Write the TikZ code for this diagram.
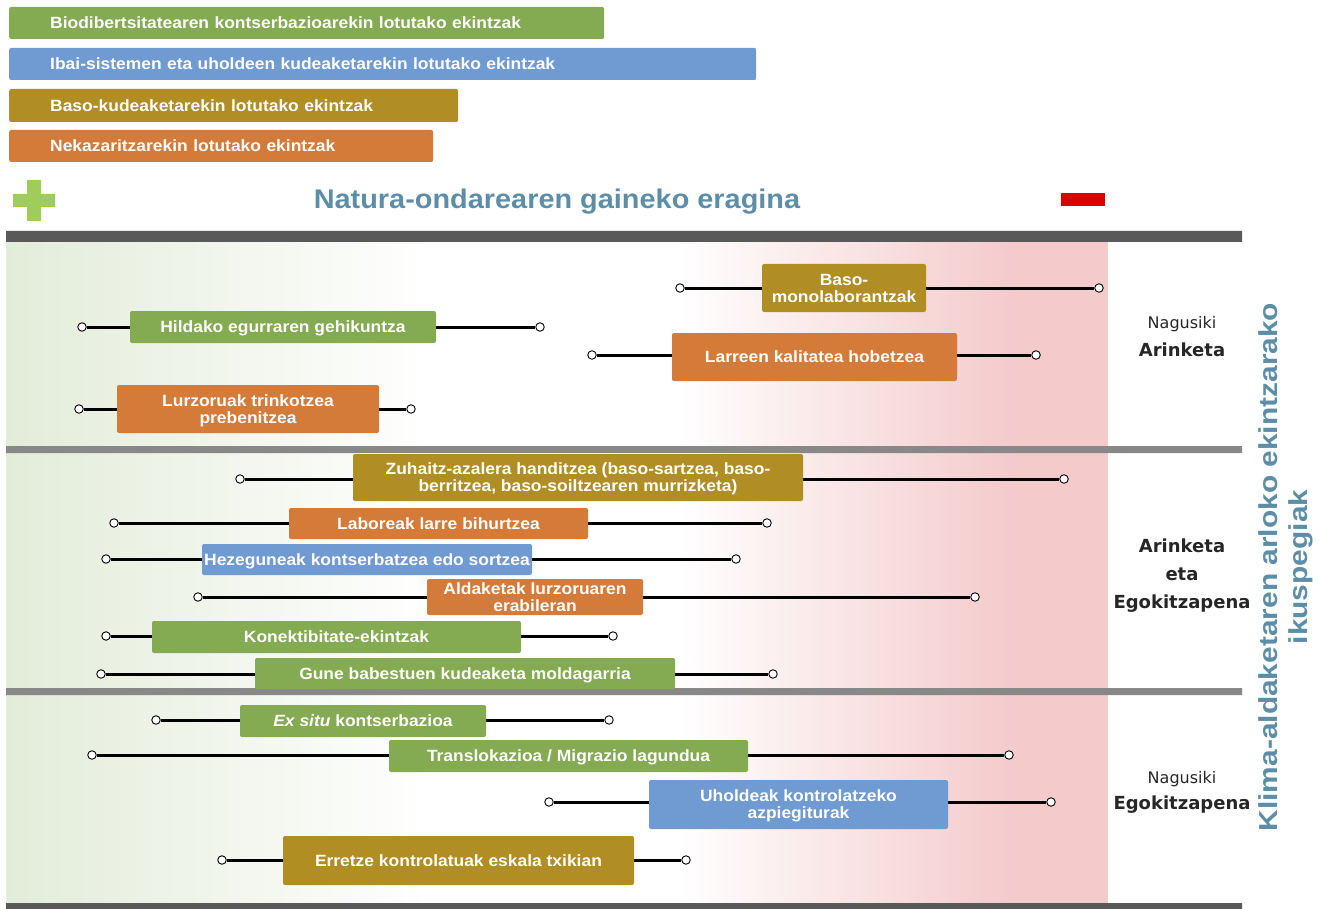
\documentclass[tikz,border=0pt]{standalone}
\usepackage{fontspec}
\setmainfont{Liberation Sans}
\newfontfamily\actfam{Liberation Sans}[FakeStretch=1.07]
\newfontfamily\axisfam{Liberation Sans}[FakeStretch=1.15]
\newfontfamily\sidefam{DejaVu Sans}
\definecolor{actgreen}{RGB}{132,170,82}
\definecolor{actblue}{RGB}{112,154,210}
\definecolor{actolive}{RGB}{176,142,36}
\definecolor{actorange}{RGB}{213,123,57}
\definecolor{titleblue}{RGB}{92,142,168}
\definecolor{plusgreen}{RGB}{160,205,90}
\definecolor{minusred}{RGB}{221,0,0}
\definecolor{bggreen}{RGB}{227,236,217}
\definecolor{bgpink}{RGB}{244,202,203}
\definecolor{bardark}{RGB}{89,89,89}
\definecolor{bargray}{RGB}{136,136,136}
\tikzset{
  act/.style={rounded corners=2pt, text=white, align=center, inner sep=0pt, text depth=0pt,
    font=\actfam\bfseries\fontsize{16.3}{17}\selectfont},
  legbar/.style={act, anchor=west, align=left, minimum height=32},
  dot/.style={circle, draw, fill=white, line width=0.9pt, inner sep=0pt, minimum size=8.5pt},
  bar/.style={line width=3pt},
  side/.style={align=center, text=black!85, font=\sidefam\bfseries\fontsize{18}{28}\selectfont},
}
\begin{document}
\begin{tikzpicture}[x=1pt,y=-1pt]
  \useasboundingbox (0,0) rectangle (1319,909);
  \shade[left color=bggreen, right color=white] (6,242) rectangle (430,903);
  \shade[left color=white, right color=bgpink] (678,242) rectangle (1015,903);
  \fill[bgpink] (1014,242) rectangle (1108,903);
  \fill[bardark] (6,231) rectangle (1242,242) (6,903) rectangle (1242,909);
  \fill[bargray] (6,446) rectangle (1242,453) (6,688) rectangle (1242,695);

  \node[legbar, fill=actgreen, text width=595pt] (leg1) at (9,23) {\hspace*{41pt}Biodibertsitatearen kontserbazioarekin lotutako ekintzak};
  \node[legbar, fill=actblue, text width=747pt] (leg2) at (9,64) {\hspace*{41pt}Ibai-sistemen eta uholdeen kudeaketarekin lotutako ekintzak};
  \node[legbar, fill=actolive, text width=449pt, minimum height=33] (leg3) at (9,105.5) {\hspace*{41pt}Baso-kudeaketarekin lotutako ekintzak};
  \node[legbar, fill=actorange, text width=424pt] (leg4) at (9,146) {\hspace*{41pt}Nekazaritzarekin lotutako ekintzak};

  \fill[plusgreen] (27,180) rectangle (41,221) (13,194) rectangle (55,207);
  \node[text=titleblue, font=\actfam\bfseries\fontsize{27}{30}\selectfont] (title) at (557,202) {Natura-ondarearen gaineko eragina};
  \fill[minusred] (1061,193) rectangle (1105,206);

  \node[dot](l1) at (680,288){};   \node[dot](r1) at (1099,288){};
  \node[dot](l2) at (82,327){};    \node[dot](r2) at (540,327){};
  \node[dot](l3) at (592,355){};   \node[dot](r3) at (1036,355){};
  \node[dot](l4) at (79,409){};    \node[dot](r4) at (411,409){};
  \node[dot](l5) at (240,479){};   \node[dot](r5) at (1064,479){};
  \node[dot](l6) at (114,523){};   \node[dot](r6) at (767,523){};
  \node[dot](l7) at (106,559){};   \node[dot](r7) at (736,559){};
  \node[dot](l8) at (198,597){};   \node[dot](r8) at (975,597){};
  \node[dot](l9) at (106,636){};   \node[dot](r9) at (613,636){};
  \node[dot](l10) at (101,674){};  \node[dot](r10) at (773,674){};
  \node[dot](l11) at (156,720){};  \node[dot](r11) at (609,720){};
  \node[dot](l12) at (92,755){};   \node[dot](r12) at (1009,755){};
  \node[dot](l13) at (549,802){};  \node[dot](r13) at (1051,802){};
  \node[dot](l14) at (222,860){};  \node[dot](r14) at (686,860){};
  \draw[bar] (l1)--(r1) (l2)--(r2) (l3)--(r3) (l4)--(r4) (l5)--(r5) (l6)--(r6) (l7)--(r7)
    (l8)--(r8) (l9)--(r9) (l10)--(r10) (l11)--(r11) (l12)--(r12) (l13)--(r13) (l14)--(r14);

  \node[act, fill=actolive, minimum width=164, minimum height=48] (b1) at (844,288) {Baso-\\monolaborantzak};
  \node[act, fill=actgreen, minimum width=306, minimum height=32] (b2) at (283,327) {Hildako egurraren gehikuntza};
  \node[act, fill=actorange, minimum width=285, minimum height=48] (b3) at (814.5,357) {Larreen kalitatea hobetzea};
  \node[act, fill=actorange, minimum width=262, minimum height=48] (b4) at (248,409) {Lurzoruak trinkotzea\\prebenitzea};
  \node[act, fill=actolive, minimum width=450, minimum height=47] (b5) at (578,477.5) {Zuhaitz-azalera handitzea (baso-sartzea, baso-\\berritzea, baso-soiltzearen murrizketa)};
  \node[act, fill=actorange, minimum width=299, minimum height=31] (b6) at (438.5,523.5) {Laboreak larre bihurtzea};
  \node[act, fill=actblue, minimum width=330, minimum height=31] (b7) at (367,559.5) {Hezeguneak kontserbatzea edo sortzea};
  \node[act, fill=actorange, minimum width=216, minimum height=36] (b8) at (535,597) {Aldaketak lurzoruaren\\erabileran};
  \node[act, fill=actgreen, minimum width=369, minimum height=32] (b9) at (336.5,637) {Konektibitate-ekintzak};
  \node[act, fill=actgreen, minimum width=420, minimum height=31] (b10) at (465,673.5) {Gune babestuen kudeaketa moldagarria};
  \node[act, fill=actgreen, minimum width=246, minimum height=32] (b11) at (363,721) {\textit{Ex situ} kontserbazioa};
  \node[act, fill=actgreen, minimum width=359, minimum height=32] (b12) at (568.5,756) {Translokazioa / Migrazio lagundua};
  \node[act, fill=actblue, minimum width=299, minimum height=49] (b13) at (798.5,804.5) {Uholdeak kontrolatzeko\\azpiegiturak};
  \node[act, fill=actolive, minimum width=351, minimum height=49] (b14) at (458.5,860.5) {Erretze kontrolatuak eskala txikian};

  \node[side] (zone1) at (1182,337) {{\mdseries\fontsize{16}{28}\selectfont Nagusiki}\\Arinketa};
  \node[side] (zone2) at (1182,576) {Arinketa\\eta\\Egokitzapena};
  \node[side] (zone3) at (1182,792) {{\mdseries\fontsize{16}{26}\selectfont Nagusiki}\\[-2pt]Egokitzapena};
  \node[rotate=90, align=center, text=titleblue, font=\axisfam\bfseries\fontsize{26}{30}\selectfont] (axis) at (1286,567) {Klima-aldaketaren arloko ekintzarako\\ikuspegiak};
\end{tikzpicture}
\end{document}
